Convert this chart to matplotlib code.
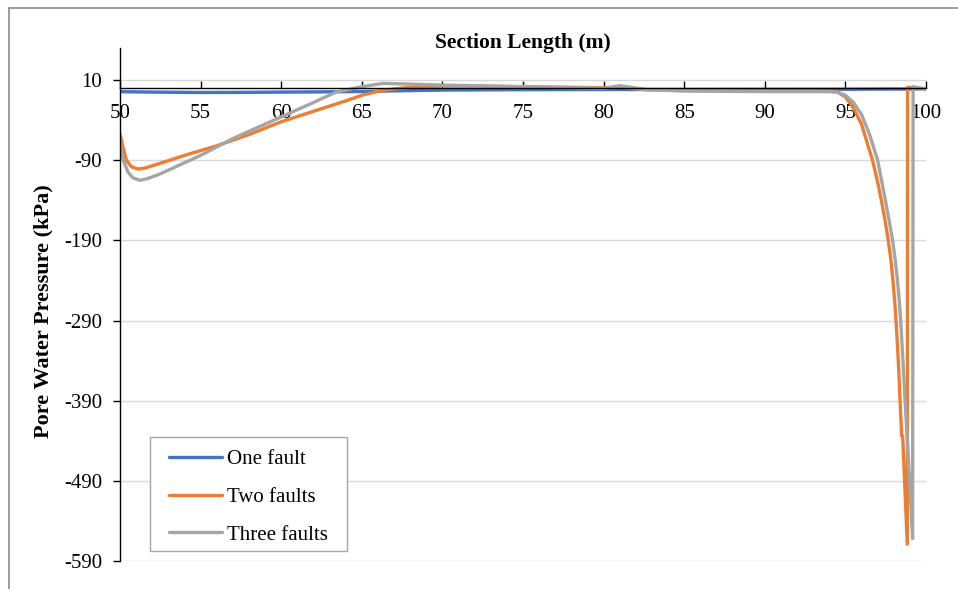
import matplotlib
matplotlib.use("Agg")
import matplotlib.pyplot as plt
from matplotlib.lines import Line2D
from matplotlib.patches import Rectangle

plt.rcParams['font.family'] = ['Liberation Serif', 'DejaVu Serif']

# ---- data ----
one_x = [50, 52, 55, 58, 60, 62, 65, 67, 70, 75, 80, 85, 90, 95, 97, 99, 100]
one_y = [-4.5, -5, -5.5, -5.3, -5, -4.8, -4.3, -3.5, -2.5, -2, -1.8, -1.7, -1.6, -1.5, -1.3, -1.2, -1.0]

two_x = [50, 50.2, 50.4, 50.7, 51.1, 51.5, 52, 54, 56, 58, 60, 62, 64, 65, 66, 67, 68, 70, 72, 75,
         78, 80, 81.2, 82.5, 85, 90, 93, 94.0, 94.5, 95.0, 95.5, 96.0, 96.3, 96.68, 97.0, 97.23,
         97.45, 97.66, 97.82, 97.95, 98.05, 98.14, 98.22, 98.28, 98.34, 98.39, 98.49, 98.55,
         98.84, 98.86, 100]
two_y = [-57, -75, -90, -98, -101, -100, -97, -84, -72, -58, -42, -29, -16, -9, -4, -1, 1, 2.5, 2.5, 1.7,
         1, 0.4, 1, -2, -3, -3.5, -3.5, -4, -5, -11, -25, -45, -65, -90, -117, -140,
         -164, -190, -214, -240, -264, -290, -318, -340, -365, -390, -434, -434,
         -569, 1, -1]

three_x = [50, 50.2, 50.5, 50.8, 51.24, 51.7, 52.5, 55, 57.1, 60, 62, 63.4, 65, 66.3, 68, 70, 75, 80,
           81.0, 82.7, 85, 90, 94, 94.5, 95.0, 95.5, 96.0, 96.5, 97.0, 97.25, 97.5, 97.72, 97.93,
           98.1, 98.23, 98.34, 98.43, 98.53, 98.62, 98.7, 98.85, 98.97, 99.08, 99.17, 99.2, 100]
three_y = [-71, -90, -105, -112, -115, -113, -107, -84, -62, -36, -18, -5, 1.7, 5.8, 5, 3.7, 1.7, -0.4,
           3, -2, -3.7, -4.4, -4.5, -5, -9, -18, -33, -58, -90, -116, -142, -166, -190,
           -216, -240, -265, -290, -326, -358, -390, -440, -486, -526, -562, 1.7, -1]

series_labels = ["One fault", "Two faults", "Three faults"]
series_colors = ["#4472C4", "#ED7D31", "#A5A5A5"]
x_ticks = list(range(50, 101, 5))
y_ticks = list(range(-590, 11, 100))

W, H = 958, 589
fig = plt.figure(figsize=(W / 100, H / 100), dpi=100)
ax = fig.add_axes([120 / W, 1 - 561 / H, 806 / W, 513 / H])

for xs, ys, lab, col in zip([one_x, two_x, three_x], [one_y, two_y, three_y], series_labels, series_colors):
    ax.plot(xs, ys, color=col, lw=2.4, label=lab, solid_capstyle='round', solid_joinstyle='round')

ax.set_xlim(50, 100)
ax.set_ylim(-590, 50)
ax.set_xticks(x_ticks)
ax.set_yticks(y_ticks)
ax.set_yticklabels([str(v) for v in y_ticks])
ax.yaxis.grid(True, color="#D9D9D9", lw=1)
ax.set_axisbelow(True)

for s in ['top', 'right']:
    ax.spines[s].set_visible(False)
ax.spines['bottom'].set_position(('data', 0))
ax.spines['bottom'].set_color('black')
ax.spines['left'].set_color('black')
ax.spines['bottom'].set_linewidth(1)
ax.spines['left'].set_linewidth(1)

ax.tick_params(axis='x', direction='in', length=5, width=1, pad=11.5, labelsize=15)
ax.tick_params(axis='y', direction='out', length=5, width=1, pad=8, labelsize=15)

# legend frame drawn at its measured place, entries placed inside
ax.add_patch(Rectangle((30 / 806, (561 - 551) / 513), (347 - 150) / 806, (551 - 437) / 513,
                       transform=ax.transAxes, facecolor='white', edgecolor='#A6A6A6', lw=1, zorder=5))
leg = ax.legend(loc='center left', bbox_to_anchor=((169 - 120) / 806, (561 - 497) / 513), borderaxespad=0,
                fontsize=15, handlelength=2.55, labelspacing=0.87, handletextpad=0.25,
                frameon=False, borderpad=0)
leg.set_zorder(6)

fig.text(523 / W, 1 - 43 / H, "Section Length (m)", ha='center', va='center',
         fontsize=15.5, fontweight='bold')
fig.text(43 / W, 1 - 311 / H, "Pore Water Pressure (kPa)", ha='center', va='center',
         rotation=90, fontsize=16, fontweight='bold')

# figure border (left and top visible)
fig.add_artist(Line2D([9 / W, 9 / W], [0, 1 - 8 / H], color='#8C8C8C', lw=1.2, transform=fig.transFigure))
fig.add_artist(Line2D([9 / W, 1], [1 - 8 / H, 1 - 8 / H], color='#8C8C8C', lw=1.2, transform=fig.transFigure))

fig.savefig("out.png", dpi=100)
